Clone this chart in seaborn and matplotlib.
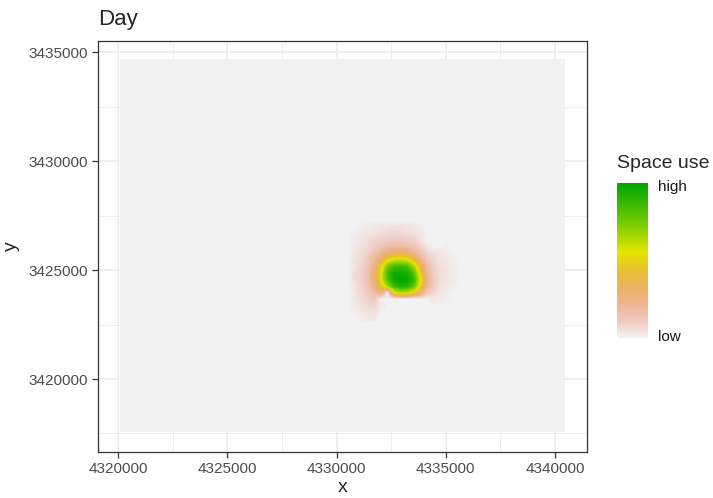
import numpy as np
import matplotlib
matplotlib.use("Agg")
import matplotlib.pyplot as plt
import seaborn as sns

# colour ramp for space use, low -> high (reversed terrain colours)
terrain_cols = ["#F2F2F2", "#F0C9C0", "#EDB48E", "#EBB25E", "#E8C32E",
                "#E6E600", "#A0D600", "#63C600", "#2DB600", "#00A600"]

# full raster extent, cells outside the hotspot are ~0
raster_x = [4320100, 4340450]
raster_y = [3417550, 3434700]
background_use = 0.0

# hotspot block: 300 m cells, rows listed north -> south
hot_x0 = 4330400
hot_ytop = 3427400
cell = 300
space_use = [
    [0.00, 0.00, 0.00, 0.00, 0.00, 0.00, 0.00, 0.00, 0.00, 0.00, 0.00, 0.00, 0.00, 0.00, 0.00, 0.00, 0.00, 0.00],
    [0.00, 0.00, 0.01, 0.02, 0.03, 0.04, 0.04, 0.05, 0.05, 0.04, 0.03, 0.01, 0.00, 0.00, 0.00, 0.00, 0.00, 0.00],
    [0.00, 0.01, 0.03, 0.04, 0.05, 0.06, 0.07, 0.07, 0.07, 0.06, 0.05, 0.03, 0.00, 0.00, 0.00, 0.00, 0.00, 0.00],
    [0.00, 0.02, 0.04, 0.06, 0.08, 0.09, 0.10, 0.11, 0.11, 0.10, 0.09, 0.05, 0.00, 0.00, 0.00, 0.00, 0.00, 0.00],
    [0.00, 0.03, 0.05, 0.07, 0.10, 0.13, 0.16, 0.18, 0.18, 0.16, 0.13, 0.09, 0.04, 0.00, 0.00, 0.01, 0.00, 0.00],
    [0.00, 0.04, 0.06, 0.09, 0.14, 0.21, 0.28, 0.32, 0.33, 0.30, 0.22, 0.14, 0.08, 0.05, 0.03, 0.02, 0.01, 0.00],
    [0.00, 0.05, 0.07, 0.12, 0.19, 0.33, 0.50, 0.58, 0.60, 0.56, 0.42, 0.24, 0.12, 0.07, 0.04, 0.03, 0.01, 0.00],
    [0.00, 0.05, 0.08, 0.13, 0.25, 0.48, 0.74, 0.84, 0.86, 0.82, 0.66, 0.38, 0.17, 0.09, 0.06, 0.03, 0.02, 0.00],
    [0.00, 0.06, 0.09, 0.15, 0.29, 0.55, 0.84, 0.95, 0.97, 0.94, 0.80, 0.50, 0.21, 0.10, 0.06, 0.04, 0.02, 0.00],
    [0.00, 0.06, 0.09, 0.15, 0.29, 0.55, 0.82, 0.96, 1.00, 0.98, 0.88, 0.56, 0.23, 0.11, 0.06, 0.04, 0.02, 0.00],
    [0.00, 0.05, 0.08, 0.13, 0.24, 0.44, 0.68, 0.88, 0.94, 0.92, 0.80, 0.50, 0.21, 0.10, 0.05, 0.03, 0.01, 0.00],
    [0.00, 0.04, 0.07, 0.11, 0.17, 0.28, 0.00, 0.56, 0.64, 0.62, 0.50, 0.32, 0.14, 0.07, 0.04, 0.02, 0.00, 0.00],
    [0.00, 0.03, 0.06, 0.09, 0.12, 0.00, 0.00, 0.00, 0.00, 0.00, 0.00, 0.00, 0.00, 0.03, 0.02, 0.01, 0.00, 0.00],
    [0.00, 0.02, 0.05, 0.07, 0.08, 0.03, 0.00, 0.00, 0.00, 0.00, 0.00, 0.00, 0.00, 0.00, 0.00, 0.00, 0.00, 0.00],
    [0.00, 0.01, 0.03, 0.05, 0.05, 0.00, 0.00, 0.00, 0.00, 0.00, 0.00, 0.00, 0.00, 0.00, 0.00, 0.00, 0.00, 0.00],
    [0.00, 0.00, 0.01, 0.02, 0.02, 0.00, 0.00, 0.00, 0.00, 0.00, 0.00, 0.00, 0.00, 0.00, 0.00, 0.00, 0.00, 0.00],
]

x_ticks = [4320000, 4325000, 4330000, 4335000, 4340000]
x_minor = [4322500, 4327500, 4332500, 4337500]
y_ticks = [3420000, 3425000, 3430000, 3435000]
y_minor = [3417500, 3422500, 3427500, 3432500]

sns.set_style("white")
plt.rcParams["font.family"] = ["Liberation Sans", "DejaVu Sans"]

cmap = sns.blend_palette(terrain_cols, as_cmap=True)

fig = plt.figure(figsize=(7.13, 4.98), dpi=100)
ax = fig.add_axes([0.1379, 0.0930, 0.6850, 0.8253])

# background cells
ax.pcolormesh(raster_x, raster_y, [[background_use]], cmap=cmap, vmin=0, vmax=1,
              edgecolor="none", antialiased=False, zorder=2)

hot = np.array(space_use)
nrow, ncol = hot.shape
extent = [hot_x0, hot_x0 + cell * ncol, hot_ytop - cell * nrow, hot_ytop]
img = ax.imshow(hot, cmap=cmap, vmin=0, vmax=1, extent=extent, origin="upper",
                interpolation="bilinear", aspect="auto", zorder=3)

ax.set_xticks(x_ticks)
ax.set_xticklabels([str(v) for v in x_ticks])
ax.set_yticks(y_ticks)
ax.set_yticklabels([str(v) for v in y_ticks])
ax.set_xticks(x_minor, minor=True)
ax.set_yticks(y_minor, minor=True)
ax.set_xlim(4319085, 4341451)
ax.set_ylim(3416665, 3435532)

ax.grid(True, which="major", color="#EBEBEB", linewidth=1.1, zorder=0)
ax.grid(True, which="minor", color="#EBEBEB", linewidth=0.55, zorder=0)
ax.set_axisbelow(True)
ax.tick_params(which="major", direction="out", length=4, width=0.9, color="#333333",
               labelsize=11, labelcolor="#4D4D4D", pad=3.5, bottom=True, left=True)
ax.tick_params(which="minor", length=0)
for s in ax.spines.values():
    s.set_color("#333333")
    s.set_linewidth(0.9)
    s.set_zorder(5)

ax.set_xlabel("x", fontsize=14, labelpad=2)
ax.set_ylabel("y", fontsize=14, labelpad=6)
ax.set_title("Day", loc="left", fontsize=16, pad=11)

# colour bar legend
cax = fig.add_axes([616.7 / 713, 1 - 338 / 498, 31.6 / 713, 155.3 / 498])
cb = fig.colorbar(img, cax=cax)
cb.outline.set_visible(False)
cb.set_ticks([0.018, 0.982])
cb.set_ticklabels(["low", "high"])
cax.tick_params(direction="in", length=6, width=0.7, color="white", left=True, right=True,
                labelsize=11, labelcolor="#1A1A1A", pad=7)
fig.text(617 / 713, 1 - 168 / 498, "Space use", fontsize=14, va="baseline", ha="left")

fig.savefig("out.png", dpi=100)
